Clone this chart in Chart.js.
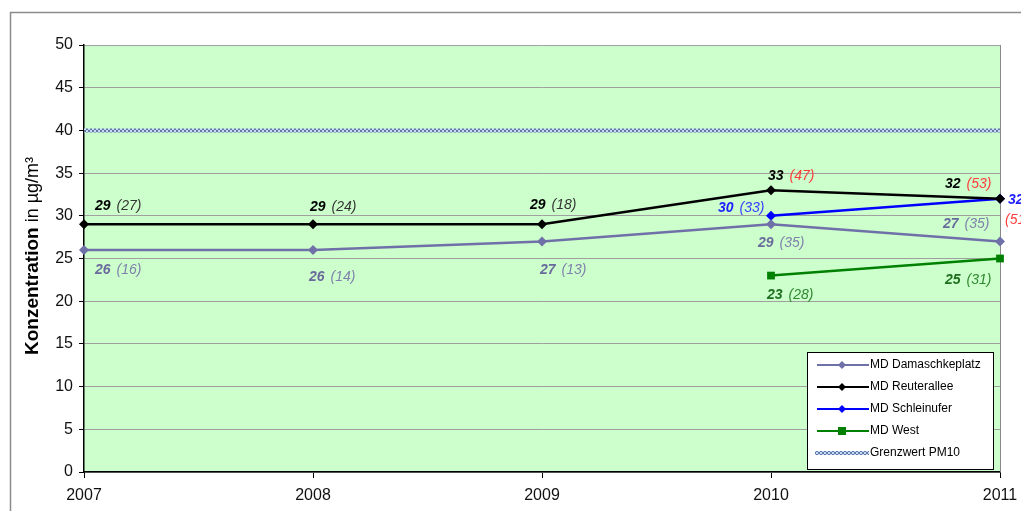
<!DOCTYPE html>
<html>
<head>
<meta charset="utf-8">
<script src="https://cdn.jsdelivr.net/npm/chart.js@4.4.0/dist/chart.umd.min.js"></script>
<style>
  html, body { margin: 0; padding: 0; background: #fff; overflow: hidden; }
  canvas { display: block; }
</style>
</head>
<body>
<canvas id="c" width="1021" height="511"></canvas>
<script>
// Jahresmittelwerte PM10 (in Klammern: Anzahl Überschreitungstage)
const years = ['2007', '2008', '2009', '2010', '2011'];
const damaschke = [26, 26, 27, 29, 27];
const damaschkeDays = [16, 14, 13, 35, 35];
const reuter = [29, 29, 29, 33, 32];
const reuterDays = [27, 24, 18, 47, 53];
const schlein = [null, null, null, 30, 32];
const schleinDays = [null, null, null, 33, 51];
const west = [null, null, null, 23, 25];
const westDays = [null, null, null, 28, 31];
const limit = [40, 40, 40, 40, 40];
const seriesNames = ['MD Damaschkeplatz', 'MD Reuterallee', 'MD Schleinufer', 'MD West', 'Grenzwert PM10'];

// label placement relative to the point: [dx, dy, parenDx, parenDy]
const damaschkePos = [[11, 20], [-4, 27], [-2, 29], [-13, 19], [-57, -17]];
const reuterPos = [[11, -18], [-3, -17], [-12, -19], [-3, -14], [-55, -15]];
const schleinPos = [null, null, null, [-53, -8], [8, 1, 5, 21]];
const westPos = [null, null, null, [-4, 20], [-55, 22]];

const RED = '#ff3b3b';
const labelSets = [
  { values: damaschke, days: damaschkeDays, pos: damaschkePos, color: '#6a6a9c', paren: ['#8080ac', '#8080ac', '#8080ac', '#8080ac', '#8080ac'] },
  { values: reuter, days: reuterDays, pos: reuterPos, color: '#000', paren: ['#333', '#333', '#333', RED, RED] },
  { values: schlein, days: schleinDays, pos: schleinPos, color: '#2020ff', paren: [null, null, null, '#3a3aff', RED] },
  { values: west, days: westDays, pos: westPos, color: '#1f6f1f', paren: [null, null, null, '#2f872f', '#2f872f'] }
];

const FONT = '"Liberation Sans", Arial, sans-serif';

// checkered pattern for the limit line
function checker() {
  const pc = document.createElement('canvas');
  pc.width = 4;
  pc.height = 4;
  const g = pc.getContext('2d');
  g.fillStyle = '#5b79ad';
  g.fillRect(0, 0, 4, 4);
  g.fillStyle = '#cdd9f0';
  g.fillRect(0, 0, 2, 2);
  g.fillRect(2, 2, 2, 2);
  return g.createPattern(pc, 'repeat');
}

const frame = {
  id: 'frame',
  beforeDraw(chart) {
    const { ctx, chartArea: a } = chart;
    ctx.save();
    ctx.strokeStyle = '#8c8c8c';
    ctx.lineWidth = 1.5;
    ctx.beginPath();
    ctx.moveTo(10.5, 520);
    ctx.lineTo(10.5, 12.5);
    ctx.lineTo(1030, 12.5);
    ctx.stroke();
    ctx.fillStyle = '#ccffcc';
    ctx.fillRect(a.left, a.top, a.right - a.left, a.bottom - a.top);
    ctx.restore();
  },
  beforeDatasetsDraw(chart) {
    const { ctx, chartArea: a } = chart;
    ctx.save();
    ctx.strokeStyle = '#888';
    ctx.lineWidth = 1;
    ctx.beginPath();
    ctx.moveTo(a.right + 0.5, a.top);
    ctx.lineTo(a.right + 0.5, a.bottom);
    ctx.stroke();
    ctx.restore();
  },
  afterDraw(chart) {
    const { ctx } = chart;
    // Achsentitel
    ctx.save();
    ctx.translate(33, 256);
    ctx.rotate(-Math.PI / 2);
    ctx.fillStyle = '#000';
    ctx.textBaseline = 'middle';
    ctx.font = 'bold 19px ' + FONT;
    const t1 = 'Konzentration';
    const t2 = ' in µg/m³';
    const w1 = ctx.measureText(t1).width;
    ctx.font = '18px ' + FONT;
    const w2 = ctx.measureText(t2).width;
    let x0 = -(w1 + w2) / 2;
    ctx.font = 'bold 19px ' + FONT;
    ctx.fillText(t1, x0, 0);
    ctx.font = '18px ' + FONT;
    ctx.fillText(t2, x0 + w1, 0);
    ctx.restore();

    // Datenbeschriftungen
    ctx.save();
    ctx.textBaseline = 'middle';
    labelSets.forEach((set, di) => {
      const meta = chart.getDatasetMeta(di);
      set.values.forEach((v, i) => {
        if (v === null) return;
        const pt = meta.data[i];
        const p = set.pos[i];
        const x = pt.x + p[0];
        const y = pt.y + p[1];
        ctx.font = 'italic bold 14px ' + FONT;
        ctx.fillStyle = set.color;
        const txt = String(v);
        ctx.fillText(txt, x, y);
        const w = ctx.measureText(txt).width;
        ctx.font = 'italic 14px ' + FONT;
        ctx.fillStyle = set.paren[i];
        const par = '(' + set.days[i] + ')';
        if (p.length > 2) ctx.fillText(par, pt.x + p[2], pt.y + p[3]);
        else ctx.fillText(par, x + w + 6, y);
      });
    });
    ctx.restore();

    // Legende
    const bx = 807.5, by = 352.5, bw = 186, bh = 117;
    ctx.save();
    ctx.fillStyle = '#fff';
    ctx.fillRect(bx, by, bw, bh);
    ctx.strokeStyle = '#000';
    ctx.lineWidth = 1;
    ctx.strokeRect(bx, by, bw, bh);
    ctx.font = '12px ' + FONT;
    ctx.textBaseline = 'middle';
    const rows = [365, 387, 409, 431, 453];
    chart.data.datasets.forEach((ds, i) => {
      const y = rows[i];
      ctx.strokeStyle = ds.borderColor;
      ctx.lineWidth = i === 4 ? 4 : 2;
      ctx.beginPath();
      ctx.moveTo(i === 4 ? 815 : 817, y);
      ctx.lineTo(869, y);
      ctx.stroke();
      ctx.fillStyle = ds.pointBackgroundColor;
      if (ds.pointStyle === 'rect') {
        ctx.fillRect(838, y - 4, 8, 8);
      } else if (ds.pointRadius > 0) {
        ctx.beginPath();
        ctx.moveTo(842, y - 4);
        ctx.lineTo(846, y);
        ctx.lineTo(842, y + 4);
        ctx.lineTo(838, y);
        ctx.closePath();
        ctx.fill();
      }
      ctx.fillStyle = '#000';
      ctx.fillText(ds.label, 870, y);
    });
    ctx.restore();
  }
};

function lineSet(label, data, color, style, radius) {
  return {
    label: label,
    data: data,
    borderColor: color,
    backgroundColor: color,
    pointBackgroundColor: color,
    pointBorderColor: color,
    pointStyle: style,
    pointRadius: radius,
    pointBorderWidth: 0,
    borderWidth: 2.5,
    tension: 0,
    clip: false,
    spanGaps: false
  };
}

const datasets = [
  lineSet(seriesNames[0], damaschke, '#7070a8', 'rectRot', 5),
  lineSet(seriesNames[1], reuter, '#000000', 'rectRot', 5),
  lineSet(seriesNames[2], schlein, '#0000ff', 'rectRot', 5),
  lineSet(seriesNames[3], west, '#008000', 'rect', 5.5),
  Object.assign(lineSet(seriesNames[4], limit, checker(), 'circle', 0), { borderWidth: 4 })
];

new Chart(document.getElementById('c'), {
  type: 'line',
  data: { labels: years, datasets: datasets },
  plugins: [frame],
  options: {
    responsive: false,
    animation: false,
    events: [],
    layout: { padding: { left: 0, right: 21, top: 45, bottom: 0 } },
    plugins: { legend: { display: false }, tooltip: { enabled: false } },
    scales: {
      x: {
        type: 'category',
        offset: false,
        afterFit(scale) {
          scale.height = 39;
          scale.paddingLeft = 0;
          scale.paddingRight = 0;
        },
        grid: { drawOnChartArea: false, drawTicks: true, tickLength: 6, tickColor: '#000', lineWidth: 1 },
        border: { color: '#000', width: 1.5 },
        ticks: { color: '#111', font: { family: FONT, size: 16 }, padding: 8, maxRotation: 0, autoSkip: false }
      },
      y: {
        min: 0,
        max: 50,
        afterFit(scale) {
          scale.width = 84;
          scale.paddingTop = 0;
          scale.paddingBottom = 0;
        },
        grid: { color: '#a0a0a0', lineWidth: 1, tickLength: 5, tickColor: '#000' },
        border: { color: '#000', width: 1.5 },
        ticks: { stepSize: 5, color: '#111', font: { family: FONT, size: 16 }, padding: 6 }
      }
    }
  }
});
</script>
</body>
</html>
